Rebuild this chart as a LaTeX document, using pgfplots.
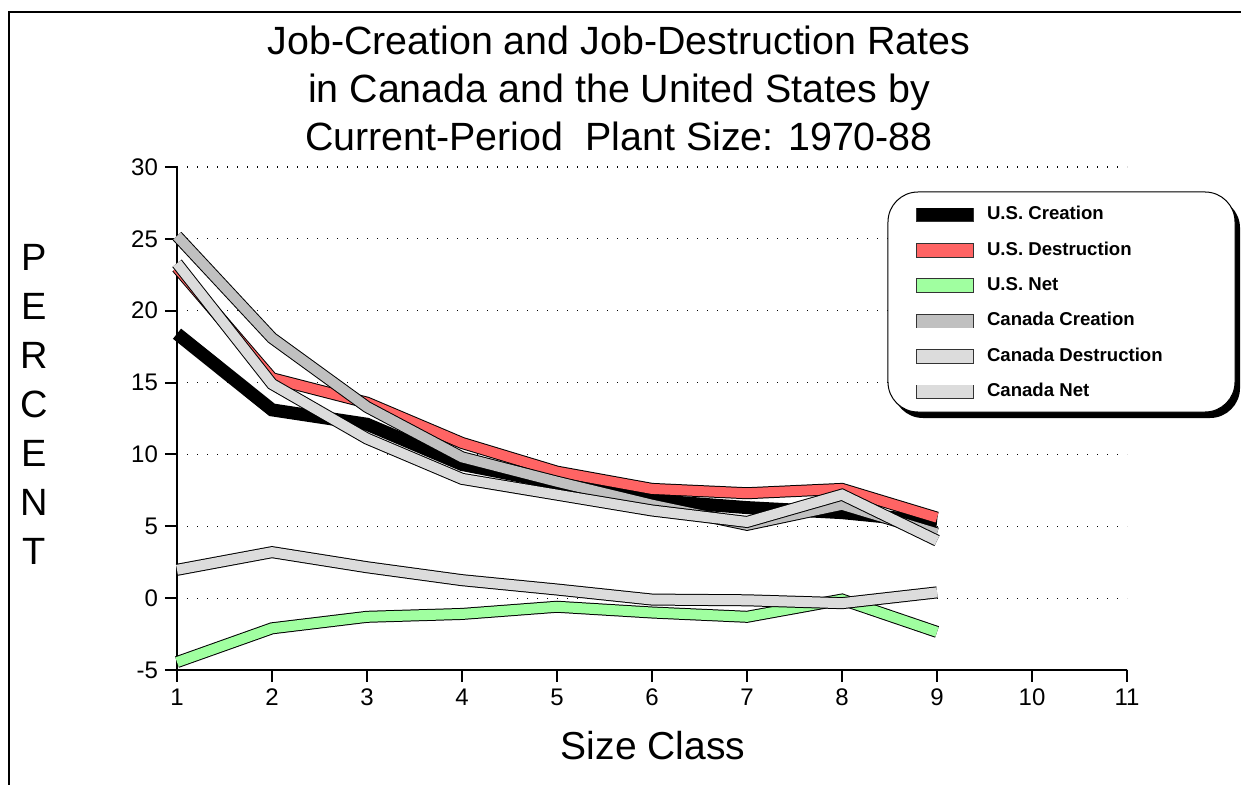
\documentclass[border=0pt]{standalone}
\usepackage{fontspec}
\setmainfont{Liberation Sans}
\usepackage{pgfplots}
\usepackage{pgfplotstable}
\pgfplotsset{compat=1.18}
\definecolor{usred}{HTML}{FF6464}
\definecolor{usgreen}{HTML}{A0FFA0}
\definecolor{cagray}{HTML}{C0C0C0}
\definecolor{calight}{HTML}{DCDCDC}

\pgfplotstableread{
x usc usd usn cac cad can
1 18.4 23.0 -4.45 25.2 23.3 1.97
2 13.1 15.3 -2.1 18.1 14.9 3.2
3 12.1 13.6 -1.3 13.3 11.1 2.15
4 9.3 10.8 -1.1 9.8 8.3 1.25
5 8.0 8.8 -0.6 8.1 7.2 0.6
6 6.8 7.6 -1.0 6.5 6.1 -0.1
7 6.3 7.3 -1.3 5.1 5.3 -0.15
8 5.95 7.6 -0.1 6.5 7.2 -0.35
9 5.3 5.6 -2.35 4.5 4.0 0.4
}\datatable

\pgfplotsset{
  band/.style={draw=black, line width=0.5pt, double=#1, double distance=5pt, line join=miter, mark=none},
  swatch/.style={legend image code/.code={%
    \fill[draw=none, black!80] (-0.4pt,-3.65pt) rectangle (28.4pt,3.65pt);
    \fill[draw=none, #1] (0pt,-3.25pt) rectangle (28pt,3.25pt);}},
}

\begin{document}
\begin{tikzpicture}
\begin{axis}[
  at={(0,0)}, anchor=south west,
  scale only axis, width=475pt, height=251.5pt,
  xmin=1, xmax=11, ymin=-5, ymax=30,
  axis x line*=bottom, axis y line*=left,
  axis line style={line width=1pt, -},
  xtick={1,2,3,4,5,6,7,8,9,10,11},
  xticklabels={1,2,3,4,5,6,7,8,9,10,11},
  ytick={-5,0,5,10,15,20,25,30},
  yticklabels={-5,0,5,10,15,20,25,30},
  tick align=outside, major tick length=6pt,
  tick style={line width=1pt, black},
  ticklabel style={font=\fontsize{12}{14}\selectfont},
  ymajorgrids,
  grid style={line width=0.6pt, black, dash pattern=on 0.6pt off 4.4pt},
  clip=false,
  title={Job-Creation and Job-Destruction Rates\\in Canada and the United States by\\Current-Period\ \ Plant Size: 1970-88},
  title style={at={(axis description cs:0.4653,1.133)}, anchor=center, align=center, font=\fontsize{19.7}{24}\selectfont},
  xlabel={Size Class},
  xlabel style={at={(axis description cs:0.501,-0.177)}, anchor=base, font=\fontsize{19.5}{24}\selectfont},
  ylabel={P\\E\\R\\C\\E\\N\\T},
  ylabel style={rotate=-90, at={(axis description cs:-0.15,0.527)}, anchor=center, align=center, font=\fontsize{19}{24.5}\selectfont},
  legend style={draw=none, fill=none, at={(0.7779,0.922)}, anchor=north west, inner sep=0pt, outer sep=0pt,
    row sep=9pt, column sep=6.7pt, font=\bfseries\fontsize{9.3}{11}\selectfont,
    nodes={inner sep=0pt, text height=6.7pt, text depth=2pt}},
  legend cell align=left,
]
\addplot[draw=black, line width=6.5pt, line join=miter, mark=none, swatch=black] table[x=x, y=usc] {\datatable};
\addlegendentry{U.S. Creation}
\addplot[band=usred, swatch=usred] table[x=x, y=usd] {\datatable};
\addlegendentry{U.S. Destruction}
\addplot[band=usgreen, swatch=usgreen] table[x=x, y=usn] {\datatable};
\addlegendentry{U.S. Net}
\addplot[band=cagray, swatch=cagray] table[x=x, y=cac] {\datatable};
\addlegendentry{Canada Creation}
\addplot[band=calight, swatch=calight] table[x=x, y=cad] {\datatable};
\addlegendentry{Canada Destruction}
\addplot[band=calight, swatch=calight] table[x=x, y=can] {\datatable};
\addlegendentry{Canada Net}
\fill[black, rounded corners=15pt] ([xshift=2.5pt,yshift=-3pt]rel axis cs:0.7484,0.9503) rectangle ([xshift=2.5pt,yshift=-3pt]rel axis cs:1.1137,0.5129);
\draw[black, fill=white, line width=0.5pt, rounded corners=15pt] (rel axis cs:0.7484,0.9503) rectangle (rel axis cs:1.1137,0.5129);
\end{axis}
\draw[line width=1pt] (-84pt,-60pt) -- (-84pt,329pt) -- (535pt,329pt);
\pgfresetboundingbox
\path[use as bounding box] (-88.5pt,-57.5pt) rectangle (532pt,335pt);
\end{tikzpicture}
\end{document}
